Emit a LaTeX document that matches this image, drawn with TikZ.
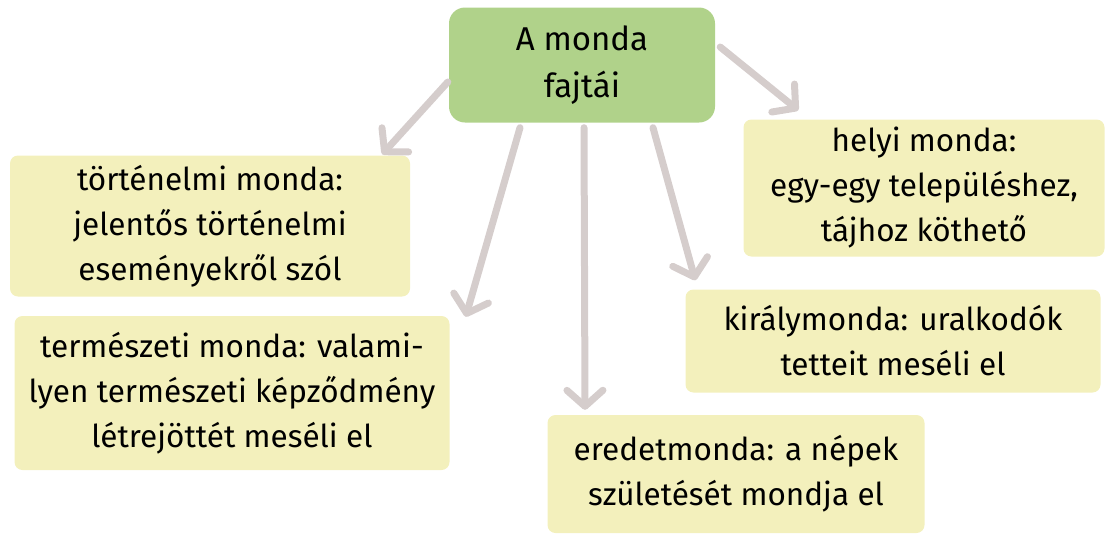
\documentclass[tikz,border=0pt]{standalone}
\usepackage{fontspec}
\setmainfont{Fira Sans}
\usetikzlibrary{arrows.meta,calc,positioning}
\definecolor{fozold}{HTML}{B0D28A}
\definecolor{sarga}{HTML}{F3F0BC}
\definecolor{nyilszurke}{HTML}{D5CDCC}
\tikzset{
        fo/.style = {fill=fozold, rectangle, rounded corners=16pt,
            align=center, font=\fontsize{33}{47}\selectfont},
        fajta/.style = {fill=sarga, rectangle, rounded corners=8pt,
            align=center, font=\fontsize{31.5}{45}\selectfont},
        nyil/.style = {draw=nyilszurke, line width=7pt, line cap=round,
            -{Straight Barb[round,length=16pt,width=36pt,line width=7pt]}},
    }

\begin{document}
\begin{tikzpicture}[x=1pt,y=-1pt]
    \useasboundingbox (0,0) rectangle (1107,536);
    \node[fo, minimum width=266pt, minimum height=115pt] (fo) at (582,65) {A monda\\fajtái};

    \node[fajta, minimum width=400pt, minimum height=141pt] (tort) at (210,226)
        {történelmi monda:\\jelentős történelmi\\eseményekről szól};
    \node[fajta, minimum width=435pt, minimum height=154pt] (term) at (232,393)
        {természeti monda: valami-\\lyen természeti képződmény\\létrejöttét meséli el};
    \node[fajta, minimum width=377pt, minimum height=118pt] (ered) at (736,474)
        {eredetmonda: a népek\\születését mondja el};
    \node[fajta, minimum width=361pt, minimum height=137pt] (hely) at (924,188)
        {helyi monda:\\egy-egy településhez,\\tájhoz köthető};
    \node[fajta, minimum width=415pt, minimum height=103pt] (kir) at (893,341)
        {királymonda: uralkodók\\tetteit meséli el};

    % nyilak
    \draw[nyil] ($(fo.west)+(-1,17)$) -- ($(tort.north east)+(-28,-1)$);
    \draw[nyil] ($(fo.south)+(-62,5)$) -- ($(term.north east)+(16,1)$);
    \draw[nyil] ($(fo.south)+(2,5)$) -- ($(ered.north)+(-151,-5)$);
    \draw[nyil] ($(fo.south)+(71,5)$) -- ($(kir.north west)+(10,-9)$);
    \draw[nyil] ($(fo.east)+(5,-18)$) -- ($(hely.north west)+(55,-9)$);
\end{tikzpicture}
\end{document}
